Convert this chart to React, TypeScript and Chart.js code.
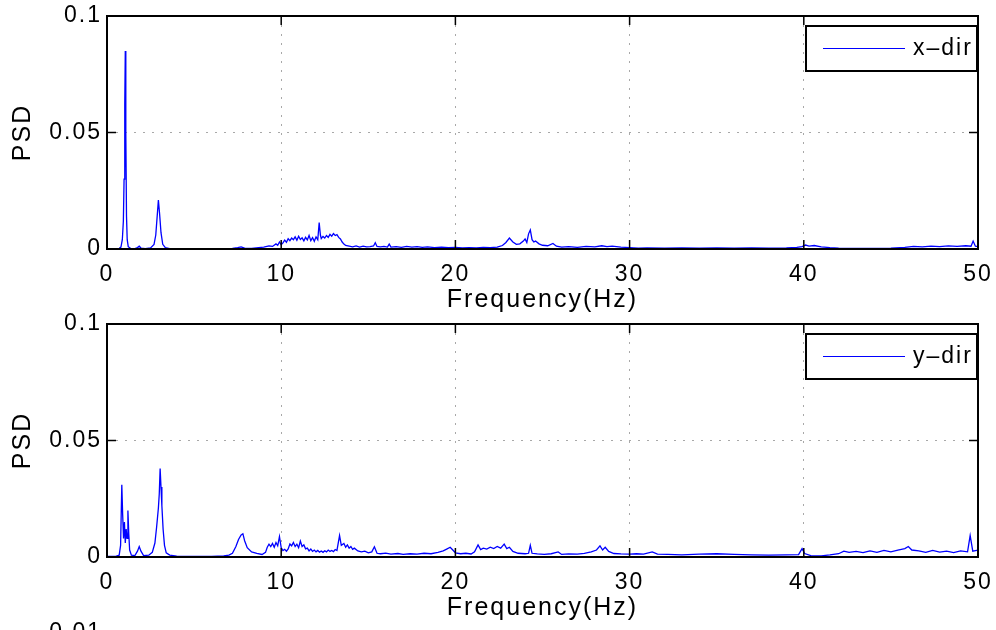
import React, { useEffect, useRef } from "react";
import { Chart, registerables } from "chart.js";

Chart.register(...registerables);

const FONT = "'Liberation Sans', Arial, Helvetica, sans-serif";
const LETTER_SPACING = "2px";

const xTickValues = [0, 10, 20, 30, 40, 50];
const yTickValues = [0, 0.05, 0.1];
const xAxisTitle = "Frequency(Hz)";
const yAxisTitle = "PSD";
const xDirLabel = "x\u2013dir";
const yDirLabel = "y\u2013dir";
const nextPlotTopTick = "0.01";

// [frequency (Hz), PSD]
const xDirPoints: [number, number][] = [
  [0, 0.0002], [0.4, 0.0002], [0.7, 0.0003], [0.8, 0.0008], [0.88, 0.004],
  [0.94, 0.012], [0.98, 0.03], [1.02, 0.062], [1.05, 0.085], [1.08, 0.05],
  [1.12, 0.014], [1.16, 0.004], [1.22, 0.001], [1.35, 0.0003], [1.6, 0.0002],
  [1.75, 0.0006], [1.85, 0.0012], [1.95, 0.0004], [2.2, 0.0002], [2.5, 0.0005],
  [2.7, 0.002], [2.8, 0.006], [2.88, 0.014], [2.95, 0.021], [3.02, 0.015],
  [3.1, 0.007], [3.2, 0.002], [3.35, 0.0006], [3.6, 0.0002], [4.5, 0.0001],
  [5.5, 0.0002], [6.5, 0.0001], [7.2, 0.0003], [7.5, 0.0006], [7.7, 0.0009],
  [7.9, 0.0004], [8.3, 0.0003], [8.7, 0.0006], [9.0, 0.0008], [9.3, 0.0013],
  [9.5, 0.0011], [9.7, 0.0022], [9.8, 0.0016], [9.9, 0.003], [10.0, 0.0018],
  [10.1, 0.0026], [10.2, 0.0038], [10.3, 0.0029], [10.4, 0.0044], [10.5, 0.0036],
  [10.6, 0.0047], [10.7, 0.004], [10.8, 0.0052], [10.9, 0.0038], [11.0, 0.0055],
  [11.1, 0.0041], [11.2, 0.0048], [11.3, 0.0035], [11.4, 0.005], [11.5, 0.0039],
  [11.6, 0.0058], [11.7, 0.0036], [11.8, 0.0049], [11.9, 0.0033], [12.0, 0.0052],
  [12.1, 0.004], [12.18, 0.0113], [12.25, 0.006], [12.3, 0.0045], [12.4, 0.0054],
  [12.5, 0.0047], [12.6, 0.0058], [12.7, 0.005], [12.8, 0.0063], [12.9, 0.0055],
  [13.0, 0.0066], [13.1, 0.0058], [13.2, 0.0062], [13.3, 0.005], [13.4, 0.0043],
  [13.5, 0.003], [13.6, 0.0021], [13.7, 0.0015], [13.9, 0.0012], [14.1, 0.0009],
  [14.3, 0.0013], [14.5, 0.0008], [14.7, 0.0012], [14.9, 0.0009], [15.1, 0.001],
  [15.3, 0.0013], [15.4, 0.0027], [15.5, 0.0011], [15.7, 0.0009], [15.9, 0.0011],
  [16.1, 0.0008], [16.2, 0.0021], [16.3, 0.0008], [16.6, 0.001], [16.9, 0.0007],
  [17.2, 0.0011], [17.5, 0.0008], [17.8, 0.001], [18.1, 0.0007], [18.4, 0.0009],
  [18.8, 0.0006], [19.2, 0.0008], [19.6, 0.0006], [20.0, 0.0007], [20.4, 0.0005],
  [20.8, 0.0006], [21.2, 0.0005], [21.6, 0.0007], [22.0, 0.0006], [22.4, 0.0008],
  [22.7, 0.0015], [22.9, 0.0028], [23.1, 0.0047], [23.3, 0.003], [23.5, 0.002],
  [23.7, 0.0022], [23.9, 0.0034], [24.0, 0.0043], [24.1, 0.0028], [24.2, 0.0065],
  [24.3, 0.0082], [24.4, 0.004], [24.5, 0.003], [24.6, 0.0034], [24.8, 0.0022],
  [25.0, 0.0016], [25.3, 0.0014], [25.6, 0.0024], [25.8, 0.0012], [26.1, 0.0008],
  [26.5, 0.001], [27.0, 0.0007], [27.5, 0.0011], [28.0, 0.0009], [28.4, 0.0014],
  [28.7, 0.001], [29.0, 0.0012], [29.5, 0.0008], [30.0, 0.0006], [30.5, 0.0004],
  [31.0, 0.0005], [32.0, 0.0004], [33.0, 0.0005], [34.0, 0.0004], [35.0, 0.0005],
  [36.0, 0.0004], [37.0, 0.0005], [38.0, 0.0004], [39.0, 0.0005], [39.6, 0.0007],
  [39.9, 0.001], [40.1, 0.0017], [40.3, 0.0012], [40.6, 0.0015], [41.0, 0.0009],
  [41.5, 0.0006], [42.0, 0.0004], [43.0, 0.0003], [44.0, 0.0003], [45.0, 0.0004],
  [45.8, 0.0007], [46.3, 0.0011], [46.8, 0.0009], [47.3, 0.0012], [47.8, 0.001],
  [48.3, 0.0013], [48.8, 0.0011], [49.3, 0.0014], [49.6, 0.0012], [49.72, 0.0034],
  [49.85, 0.0012], [50.0, 0.001],
];

const yDirPoints: [number, number][] = [
  [0, 0.0003], [0.5, 0.0003], [0.7, 0.0008], [0.78, 0.005], [0.85, 0.031],
  [0.9, 0.018], [0.95, 0.008], [1.0, 0.015], [1.05, 0.006], [1.1, 0.012],
  [1.15, 0.008], [1.2, 0.02], [1.25, 0.01], [1.3, 0.003], [1.4, 0.0008],
  [1.6, 0.0006], [1.75, 0.0025], [1.85, 0.0045], [1.95, 0.0025], [2.1, 0.0006],
  [2.4, 0.0008], [2.6, 0.002], [2.75, 0.006], [2.85, 0.013], [2.95, 0.021],
  [3.0, 0.027], [3.05, 0.038], [3.1, 0.03], [3.15, 0.022], [3.22, 0.012],
  [3.3, 0.005], [3.4, 0.0018], [3.6, 0.0008], [4.0, 0.0004], [5.0, 0.0003],
  [6.0, 0.0003], [6.7, 0.0005], [7.0, 0.0008], [7.2, 0.0016], [7.4, 0.0045],
  [7.55, 0.0075], [7.7, 0.0095], [7.8, 0.01], [7.9, 0.007], [8.05, 0.004],
  [8.3, 0.0022], [8.6, 0.0016], [8.9, 0.0011], [9.1, 0.002], [9.2, 0.0042],
  [9.3, 0.0055], [9.4, 0.0045], [9.5, 0.0058], [9.6, 0.0042], [9.7, 0.0062],
  [9.8, 0.0048], [9.9, 0.0088], [10.0, 0.004], [10.1, 0.0028], [10.2, 0.0033],
  [10.3, 0.0025], [10.4, 0.0035], [10.5, 0.0056], [10.6, 0.0048], [10.7, 0.0062],
  [10.8, 0.0045], [10.9, 0.0055], [11.0, 0.004], [11.1, 0.0068], [11.2, 0.0045],
  [11.3, 0.0052], [11.4, 0.0035], [11.5, 0.0038], [11.6, 0.0026], [11.7, 0.0034],
  [11.8, 0.0024], [11.9, 0.003], [12.0, 0.0022], [12.1, 0.0028], [12.2, 0.0021],
  [12.3, 0.0026], [12.4, 0.002], [12.5, 0.0027], [12.6, 0.0022], [12.7, 0.003],
  [12.8, 0.0024], [12.9, 0.0028], [13.0, 0.0023], [13.1, 0.0032], [13.2, 0.0028],
  [13.35, 0.0092], [13.45, 0.005], [13.6, 0.0058], [13.7, 0.0042], [13.8, 0.0052],
  [13.9, 0.0038], [14.0, 0.0045], [14.1, 0.0033], [14.2, 0.0038], [14.4, 0.0026],
  [14.6, 0.0022], [14.8, 0.0025], [15.0, 0.0018], [15.2, 0.0022], [15.35, 0.0044],
  [15.5, 0.0016], [15.7, 0.0014], [16.0, 0.0017], [16.3, 0.0012], [16.7, 0.0015],
  [17.0, 0.0011], [17.4, 0.0014], [17.8, 0.0012], [18.2, 0.0016], [18.6, 0.0014],
  [19.0, 0.002], [19.3, 0.0026], [19.5, 0.0034], [19.7, 0.0042], [19.85, 0.003],
  [20.0, 0.0018], [20.3, 0.0014], [20.6, 0.0016], [20.9, 0.0013], [21.1, 0.0022],
  [21.3, 0.0052], [21.45, 0.0032], [21.6, 0.0038], [21.8, 0.0034], [22.0, 0.0042],
  [22.2, 0.0036], [22.4, 0.0045], [22.6, 0.0038], [22.8, 0.0055], [22.95, 0.0036],
  [23.1, 0.0042], [23.3, 0.0024], [23.6, 0.0016], [24.0, 0.0014], [24.2, 0.0016],
  [24.3, 0.005], [24.4, 0.0016], [24.7, 0.0013], [25.1, 0.0011], [25.5, 0.0014],
  [25.9, 0.0022], [26.1, 0.0011], [26.5, 0.0013], [27.0, 0.0012], [27.4, 0.0016],
  [27.8, 0.0022], [28.1, 0.003], [28.3, 0.0048], [28.45, 0.003], [28.6, 0.0042],
  [28.8, 0.0024], [29.1, 0.0015], [29.5, 0.0013], [30.0, 0.0012], [30.4, 0.0014],
  [30.8, 0.0012], [31.3, 0.0022], [31.6, 0.0012], [32.2, 0.0011], [33.0, 0.0009],
  [34.0, 0.0012], [35.0, 0.0014], [36.0, 0.0011], [37.0, 0.0009], [38.0, 0.0008],
  [39.0, 0.0009], [39.7, 0.001], [39.9, 0.0036], [40.05, 0.0015], [40.4, 0.0006],
  [41.0, 0.0005], [41.5, 0.0009], [42.0, 0.0014], [42.3, 0.0025], [42.6, 0.002],
  [43.0, 0.0024], [43.4, 0.0019], [43.8, 0.0026], [44.2, 0.002], [44.6, 0.0028],
  [45.0, 0.0022], [45.4, 0.003], [45.8, 0.0036], [46.0, 0.0045], [46.2, 0.003],
  [46.6, 0.0026], [47.0, 0.002], [47.4, 0.0028], [47.8, 0.0021], [48.2, 0.0025],
  [48.6, 0.0019], [49.0, 0.0026], [49.4, 0.0022], [49.55, 0.0092], [49.7, 0.0025],
  [50.0, 0.003],
];

const spacingPlugin = {
  id: "letterSpacing",
  beforeUpdate(chart: any) {
    (chart.ctx as any).letterSpacing = LETTER_SPACING;
  },
  beforeDraw(chart: any) {
    (chart.ctx as any).letterSpacing = LETTER_SPACING;
  },
};

const framePlugin = {
  id: "matlabFrame",
  afterDatasetsDraw(chart: any) {
    const { ctx, chartArea: a, scales } = chart;
    ctx.save();
    // inward tick marks
    const tl = 9;
    ctx.strokeStyle = "#000";
    ctx.lineWidth = 1.5;
    ctx.beginPath();
    scales.x.ticks.forEach((t: any) => {
      const px = scales.x.getPixelForValue(t.value);
      ctx.moveTo(px, a.bottom);
      ctx.lineTo(px, a.bottom - tl);
      ctx.moveTo(px, a.top);
      ctx.lineTo(px, a.top + tl);
    });
    scales.y.ticks.forEach((t: any) => {
      const py = scales.y.getPixelForValue(t.value);
      ctx.moveTo(a.left, py);
      ctx.lineTo(a.left + tl, py);
      ctx.moveTo(a.right, py);
      ctx.lineTo(a.right - tl, py);
    });
    ctx.stroke();
    // box
    ctx.lineWidth = 2;
    ctx.strokeRect(a.left, a.top, a.right - a.left, a.bottom - a.top);

    // legend
    const ds = chart.data.datasets[0];
    const w = 171;
    const h = 45;
    const bx = a.right - w - 1;
    const by = a.top + 10;
    ctx.fillStyle = "#fff";
    ctx.fillRect(bx, by, w, h);
    ctx.lineWidth = 2;
    ctx.strokeStyle = "#000";
    ctx.strokeRect(bx, by, w, h);
    const cy = by + h / 2;
    ctx.strokeStyle = ds.borderColor;
    ctx.lineWidth = 1.2;
    ctx.beginPath();
    ctx.moveTo(bx + 17, cy);
    ctx.lineTo(bx + 99, cy);
    ctx.stroke();
    ctx.fillStyle = "#000";
    ctx.font = `23px ${FONT}`;
    ctx.textAlign = "left";
    ctx.textBaseline = "middle";
    ctx.fillText(ds.label, bx + 107, cy);
    ctx.restore();
  },
};

function buildConfig(points: [number, number][], label: string, padTop: number, padBottom: number): any {
  const tickFont = { family: FONT, size: 23 };
  const titleFont = { family: FONT, size: 25 };
  return {
    type: "line",
    data: {
      datasets: [
        {
          label,
          data: points.map(([x, y]) => ({ x, y })),
          borderColor: "#0000ff",
          borderWidth: 1.3,
          pointRadius: 0,
          tension: 0,
          fill: false,
        },
      ],
    },
    options: {
      responsive: false,
      animation: false,
      events: [],
      layout: { padding: { top: padTop, right: 18, bottom: padBottom, left: 0 } },
      plugins: { legend: { display: false }, tooltip: { enabled: false } },
      scales: {
        x: {
          type: "linear",
          min: 0,
          max: 50,
          afterBuildTicks: (s: any) => {
            s.ticks = xTickValues.map((v) => ({ value: v }));
          },
          afterFit: (s: any) => {
            s.height = 66;
            s.paddingLeft = 0;
            s.paddingRight = 0;
          },
          grid: { color: "#a8a8a8", lineWidth: 1, drawTicks: false },
          border: { display: false, dash: [2, 7] },
          ticks: {
            font: tickFont,
            color: "#000",
            padding: 12,
            maxRotation: 0,
            callback: (v: any) => String(v),
          },
          title: { display: true, text: xAxisTitle, font: titleFont, color: "#000", padding: 0 },
        },
        y: {
          type: "linear",
          min: 0,
          max: 0.1,
          afterBuildTicks: (s: any) => {
            s.ticks = yTickValues.map((v) => ({ value: v }));
          },
          afterFit: (s: any) => {
            s.width = 107;
            s.paddingTop = 0;
            s.paddingBottom = 0;
          },
          grid: { color: "#a8a8a8", lineWidth: 1, drawTicks: false },
          border: { display: false, dash: [2, 7] },
          ticks: {
            font: tickFont,
            color: "#000",
            padding: 5,
            callback: (v: any) => String(Number(Number(v).toFixed(2))),
          },
          title: { display: true, text: yAxisTitle, font: titleFont, color: "#000", padding: { top: 8, bottom: 0 } },
        },
      },
    },
    plugins: [spacingPlugin, framePlugin],
  };
}

function PsdPanel(props: {
  points: [number, number][];
  label: string;
  top: number;
  height: number;
  padTop: number;
  padBottom: number;
}) {
  const ref = useRef<HTMLCanvasElement | null>(null);
  useEffect(() => {
    if (!ref.current) return;
    const chart = new Chart(ref.current, buildConfig(props.points, props.label, props.padTop, props.padBottom));
    return () => chart.destroy();
  }, []);
  return (
    <canvas
      ref={ref}
      width={996}
      height={props.height}
      style={{ position: "absolute", left: 0, top: props.top, width: 996, height: props.height }}
    />
  );
}

export default function App() {
  return (
    <div
      style={{
        position: "absolute",
        left: 0,
        top: 0,
        width: 996,
        height: 630,
        overflow: "hidden",
        background: "#fff",
      }}
    >
      <PsdPanel points={xDirPoints} label={xDirLabel} top={0} height={315} padTop={16} padBottom={0} />
      <PsdPanel points={yDirPoints} label={yDirLabel} top={300} height={330} padTop={24} padBottom={7} />
      <div
        style={{
          position: "absolute",
          left: 0,
          top: 618,
          width: 102,
          textAlign: "right",
          fontFamily: FONT,
          fontSize: 23,
          letterSpacing: LETTER_SPACING,
          lineHeight: "27px",
          color: "#000",
        }}
      >
        {nextPlotTopTick}
      </div>
    </div>
  );
}
